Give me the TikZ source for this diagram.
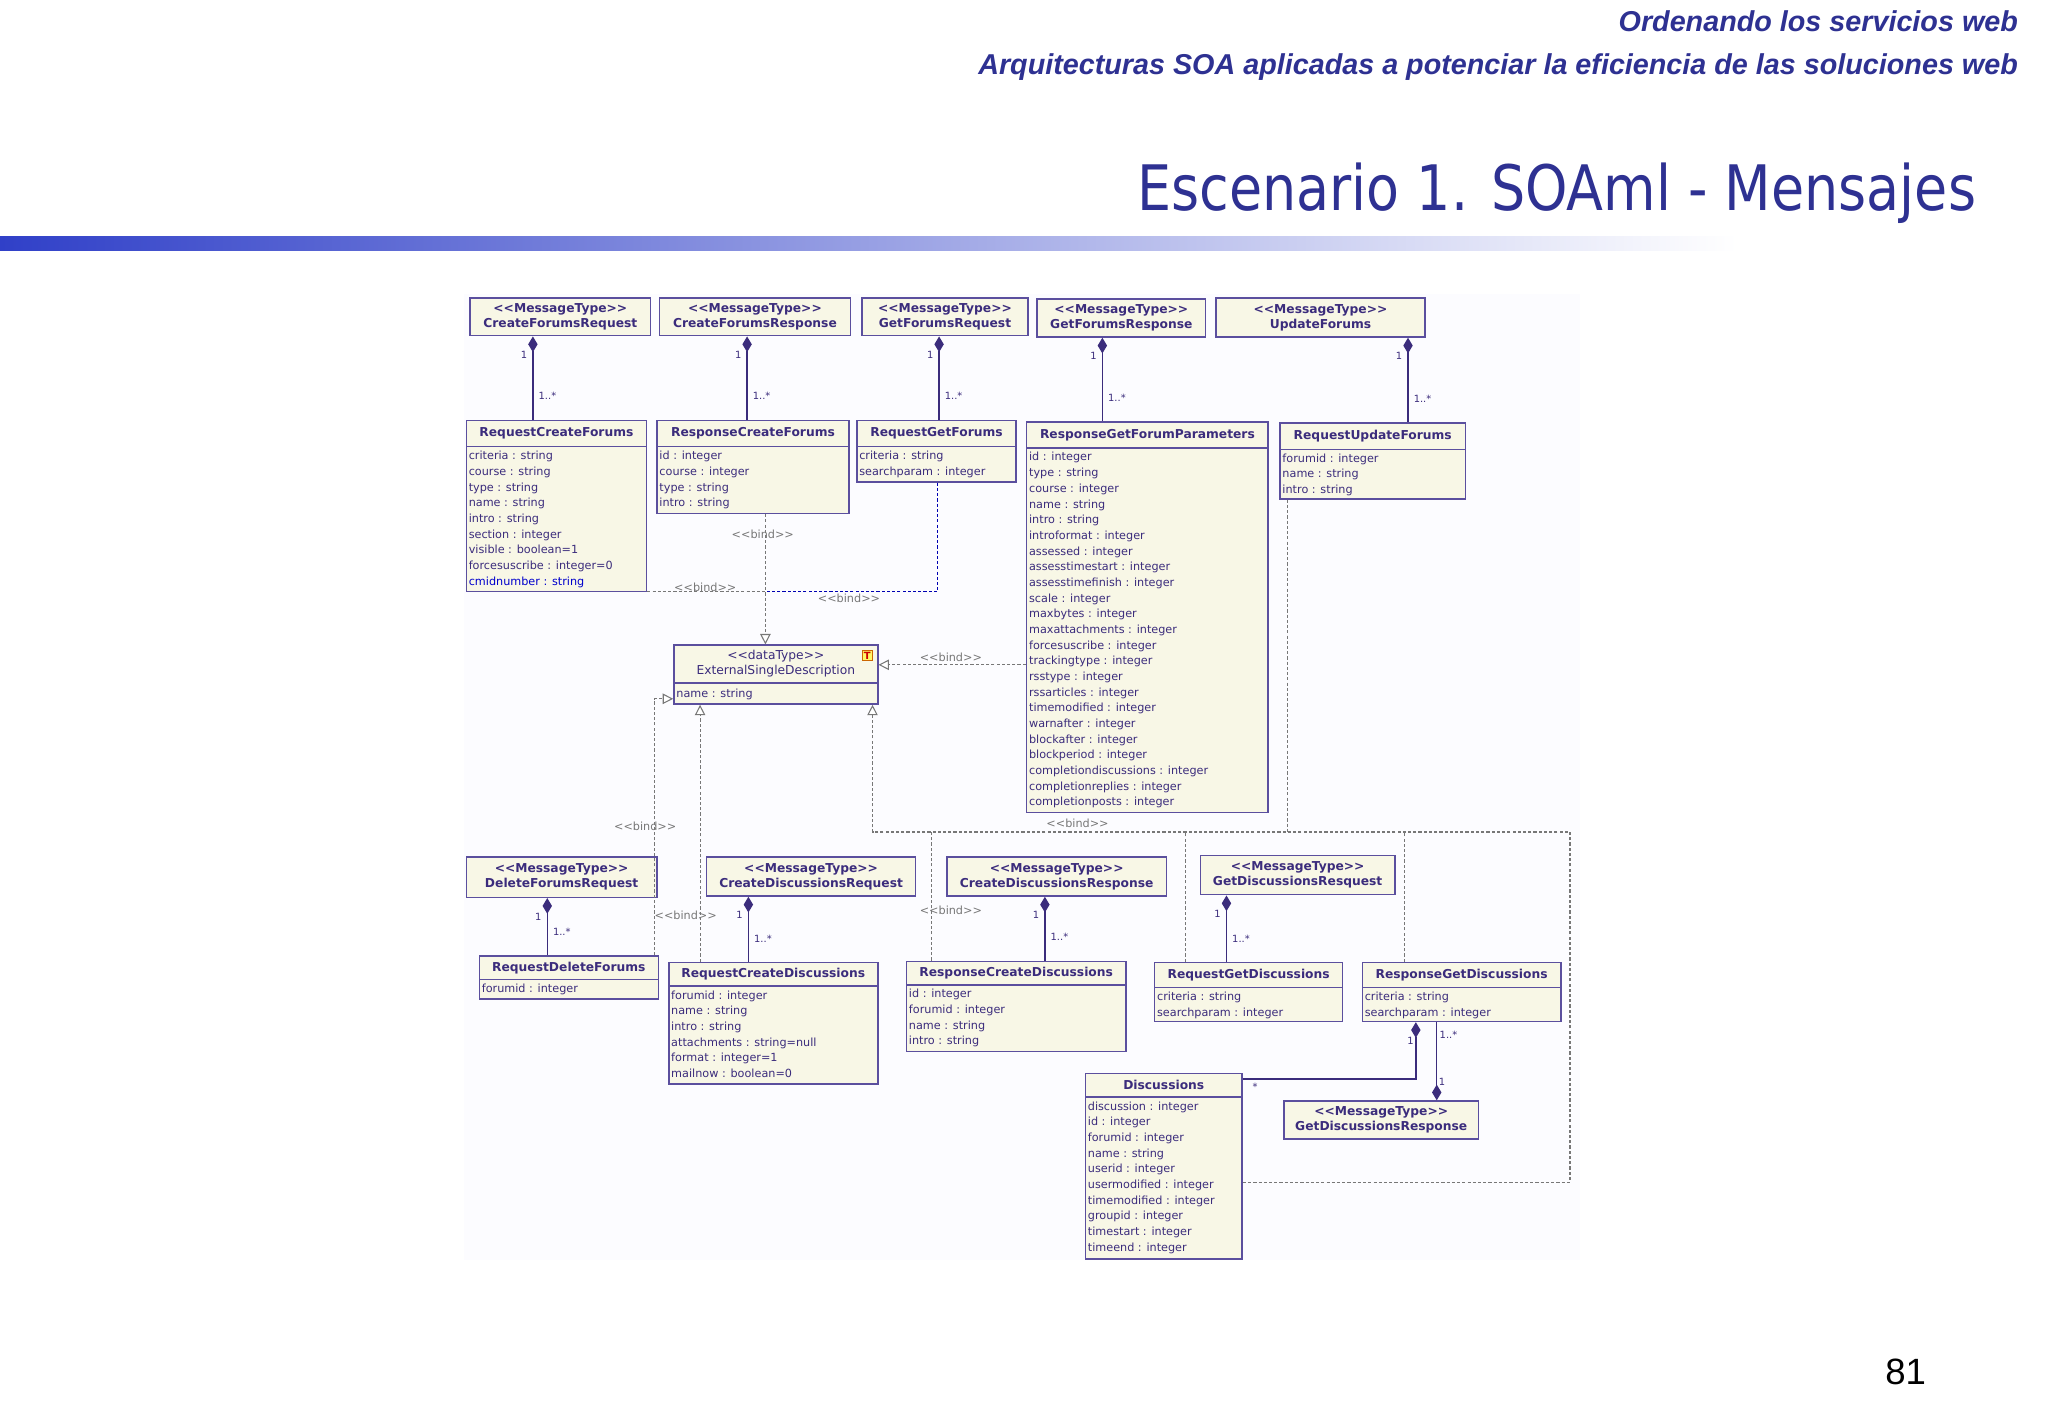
\documentclass[tikz,border=0pt]{standalone}
\usepackage{fontspec}
\setmainfont{DejaVu Sans}
\newfontfamily\hdrfont{Liberation Sans}
\newfontfamily\ttlfont[FakeStretch=0.86]{DejaVu Sans}
\usetikzlibrary{arrows.meta}
\definecolor{boxfill}{HTML}{F8F7E6}
\definecolor{boxline}{HTML}{5B4F9E}
\definecolor{txt}{HTML}{3B2C7C}
\definecolor{ttl}{HTML}{2E3192}
\definecolor{bindc}{HTML}{777777}
\definecolor{barblue}{HTML}{3040C8}
\definecolor{diagbg}{HTML}{FCFCFF}
\newcommand\llt{<\kern0pt<}
\newcommand\ggt{>\kern0pt>}
\tikzset{
 cbox/.style={draw=boxline,fill=boxfill,line width=0.6pt,inner sep=0pt},
 ctitle/.style={font=\bfseries\fontsize{4.7}{5.8}\selectfont,text=txt,align=center,inner sep=0pt},
 cattr/.style={font=\fontsize{4.3}{6}\selectfont,text=txt,align=left,inner sep=0pt,anchor=north west},
 comp/.style={draw=txt,line width=0.5pt,{Diamond[length=6pt,width=3.6pt,fill=txt]}-},
 compb/.style={draw=txt,line width=0.5pt,-{Diamond[length=6pt,width=3.6pt,fill=txt]}},
 mult/.style={font=\fontsize{3.8}{4}\selectfont,text=txt,inner sep=0pt},
 bindl/.style={draw=bindc,line width=0.4pt,dash pattern=on 1.2pt off 0.8pt},
 bindb/.style={draw=blue!70!black,line width=0.5pt,dash pattern=on 1.2pt off 0.8pt},
 tri/.style={-{Triangle[open,length=4pt,width=4pt,fill=white]}},
 bindt/.style={font=\fontsize{4.3}{5}\selectfont,text=bindc,inner sep=0pt},
}
\newcommand\ucls[8]{%
 \node[cbox,minimum width={(#4-#2)*0.5pt},minimum height={(#5-#3)*0.5pt}] (#1) at ({(#2+#4)/2},{(#3+#5)/2}) {};
 \draw[boxline,line width=0.6pt] (#2,#6) -- (#4,#6);
 \node[ctitle] (#1t) at ({(#2+#4)/2},{(#3+#6)/2}) {#7};
 \node[cattr] (#1a) at ({#2+1.5},{#6+3}) {#8};}
\newcommand\umsg[6]{%
 \node[cbox,minimum width={(#4-#2)*0.5pt},minimum height={(#5-#3)*0.5pt}] (#1) at ({(#2+#4)/2},{(#3+#5)/2}) {};
 \node[ctitle] (#1t) at ({(#2+#4)/2},{(#3+#5)/2}) {\llt MessageType\ggt\\#6};}
\newcommand\ucomp[3]{%
 \path (#3,0) coordinate (tmpx);
 \draw[comp] (#1.south -| tmpx) -- (#2.north -| tmpx);
 \node[mult,anchor=east] at ([shift={(-2pt,-7pt)}]#1.south -| tmpx) {1};
 \node[mult,anchor=west] at ([shift={(2pt,9pt)}]#2.north -| tmpx) {1..*};}
\begin{document}
\begin{tikzpicture}[x=0.5pt,y=-0.5pt]
\useasboundingbox (0,0) rectangle (1568,1086);
\fill[white] (0,0) rectangle (1568,1086);
% header
\node[font=\hdrfont\bfseries\itshape\fontsize{11}{12}\selectfont,text=ttl,anchor=east] (h1) at (1552,16) {Ordenando los servicios web};
\node[font=\hdrfont\bfseries\itshape\fontsize{11}{12}\selectfont,text=ttl,anchor=east] (h2) at (1552,51) {Arquitecturas SOA aplicadas a potenciar la eficiencia de las soluciones web};
\node[font=\ttlfont\fontsize{24}{28}\selectfont,text=ttl,anchor=east] (tt) at (1520,148) {Escenario 1. SOAml - Mensajes};
\shade[left color=barblue,right color=white] (0,181) rectangle (1330,192);
\node[font=\hdrfont\fontsize{14}{16}\selectfont,anchor=center] (pg) at (1459,1050) {81};
\fill[diagbg] (355,225) rectangle (1210,965);
% top row
\umsg{A1}{360}{228}{498}{257}{CreateForumsRequest}
\umsg{A2}{505}{228}{651}{257}{CreateForumsResponse}
\umsg{A3}{660}{228}{787}{257}{GetForumsRequest}
\umsg{A4}{794}{229}{923}{258}{GetForumsResponse}
\umsg{A5}{931}{228}{1091}{258}{UpdateForums}
% second row
\ucls{B1}{357}{322}{495}{453}{342}{RequestCreateForums}{criteria : string\\course : string\\type : string\\name : string\\intro : string\\section : integer\\visible : boolean=1\\forcesuscribe : integer=0\\\textcolor{blue!80!black}{cmidnumber : string}}
\ucls{B2}{503}{322}{650}{393}{342}{ResponseCreateForums}{id : integer\\course : integer\\type : string\\intro : string}
\ucls{B3}{656}{322}{778}{369}{342}{RequestGetForums}{criteria : string\\searchparam : integer}
\ucls{B4}{786}{323}{971}{622}{343}{ResponseGetForumParameters}{id : integer\\type : string\\course : integer\\name : string\\intro : string\\introformat : integer\\assessed : integer\\assesstimestart : integer\\assesstimefinish : integer\\scale : integer\\maxbytes : integer\\maxattachments : integer\\forcesuscribe : integer\\trackingtype : integer\\rsstype : integer\\rssarticles : integer\\timemodified : integer\\warnafter : integer\\blockafter : integer\\blockperiod : integer\\completiondiscussions : integer\\completionreplies : integer\\completionposts : integer}
\ucls{B5}{980}{324}{1122}{382}{344}{RequestUpdateForums}{forumid : integer\\name : string\\intro : string}
\ucomp{A1}{B1}{408}
\ucomp{A2}{B2}{572}
\ucomp{A3}{B3}{719}
\ucomp{A4}{B4}{844}
\ucomp{A5}{B5}{1078}
% ESD
\node[cbox,minimum width=78pt,minimum height=22.5pt] (E) at (594,516.5) {};
\draw[boxline,line width=0.6pt] (516,523) -- (672,523);
\node[ctitle,font=\fontsize{4.7}{6}\selectfont] (Et) at (594,508) {\llt dataType\ggt\\ExternalSingleDescription};
\node[cattr] (Ea) at (517.5,527) {name : string};
\node[draw=orange!80!black,fill=yellow!60,inner sep=0.6pt,font=\bfseries\fontsize{3.8}{4}\selectfont,text=red!80!black] (Ei) at (664,502) {T};
% third row
\umsg{C1}{357}{656}{503}{687}{DeleteForumsRequest}
\umsg{C2}{541}{656}{701}{686}{CreateDiscussionsRequest}
\umsg{C3}{725}{656}{893}{686}{CreateDiscussionsResponse}
\umsg{C4}{919}{655}{1068}{685}{GetDiscussionsResquest}
\ucls{D1}{367}{732}{504}{765}{750}{RequestDeleteForums}{forumid : integer}
\ucls{D2}{512}{737}{672}{830}{755}{RequestCreateDiscussions}{forumid : integer\\name : string\\intro : string\\attachments : string=null\\format : integer=1\\mailnow : boolean=0}
\ucls{D3}{694}{736}{862}{805}{754}{ResponseCreateDiscussions}{id : integer\\forumid : integer\\name : string\\intro : string}
\ucls{D4}{884}{737}{1028}{782}{756}{RequestGetDiscussions}{criteria : string\\searchparam : integer}
\ucls{D5}{1043}{737}{1195}{782}{756}{ResponseGetDiscussions}{criteria : string\\searchparam : integer}
\ucls{DS}{831}{822}{951}{964}{840}{Discussions}{discussion : integer\\id : integer\\forumid : integer\\name : string\\userid : integer\\usermodified : integer\\timemodified : integer\\groupid : integer\\timestart : integer\\timeend : integer}
\umsg{GR}{983}{843}{1132}{872}{GetDiscussionsResponse}
\ucomp{C1}{D1}{419}
\ucomp{C2}{D2}{573}
\ucomp{C3}{D3}{800}
\ucomp{C4}{D4}{939}
% D5 compositions
\path (1084,0) coordinate (x1084) (1100,0) coordinate (x1100) (0,826) coordinate (y826);
\draw[comp] (D5.south -| x1084) |- (DS.east |- y826);
\node[mult] at (1080,797) {1};
\node[mult] at (961,832) {*};
\draw[compb] (D5.south -| x1100) -- (GR.north -| x1100);
\node[mult] at (1109,792) {1..*};
\node[mult] at (1104,828) {1};
% bind connectors
\path (586,0) coordinate (x586) (718,0) coordinate (x718) (0,453) coordinate (y453)
 (0,509) coordinate (y509) (501,0) coordinate (x501) (0,535) coordinate (y535)
 (536,0) coordinate (x536) (668,0) coordinate (x668) (0,637) coordinate (y637)
 (713,0) coordinate (x713) (908,0) coordinate (x908) (1075,0) coordinate (x1075)
 (986,0) coordinate (x986) (1202,0) coordinate (x1202) (0,905) coordinate (y905);
\draw[bindl,tri] (B2.south -| x586) -- (E.north -| x586);
\draw[bindl] (B1.east |- y453) -- (x586 |- y453);
\draw[bindb] (B3.south -| x718) |- (x586 |- y453);
\draw[bindl,tri] (B4.west |- y509) -- (E.east |- y509);
\draw[bindl,tri] (D1.north -| x501) |- (E.west |- y535);
\draw[bindl,tri] (D2.north -| x536) -- (E.south -| x536);
\draw[bindl,tri] (DS.east |- y905) -| (x1202 |- y637) -| (E.south -| x668);
\draw[bindl] (D3.north -| x713) -- (x713 |- y637);
\draw[bindl] (D4.north -| x908) -- (x908 |- y637);
\draw[bindl] (D5.north -| x1075) -- (x1075 |- y637);
\draw[bindl] (B5.south -| x986) -- (x986 |- y637);
\node[bindt] at (584,409) {\llt bind\ggt};
\node[bindt] at (540,450) {\llt bind\ggt};
\node[bindt] at (650,458) {\llt bind\ggt};
\node[bindt] at (728,503) {\llt bind\ggt};
\node[bindt] at (494,633) {\llt bind\ggt};
\node[bindt] at (525,701) {\llt bind\ggt};
\node[bindt] at (728,697) {\llt bind\ggt};
\node[bindt] at (825,630) {\llt bind\ggt};
\end{tikzpicture}
\end{document}
